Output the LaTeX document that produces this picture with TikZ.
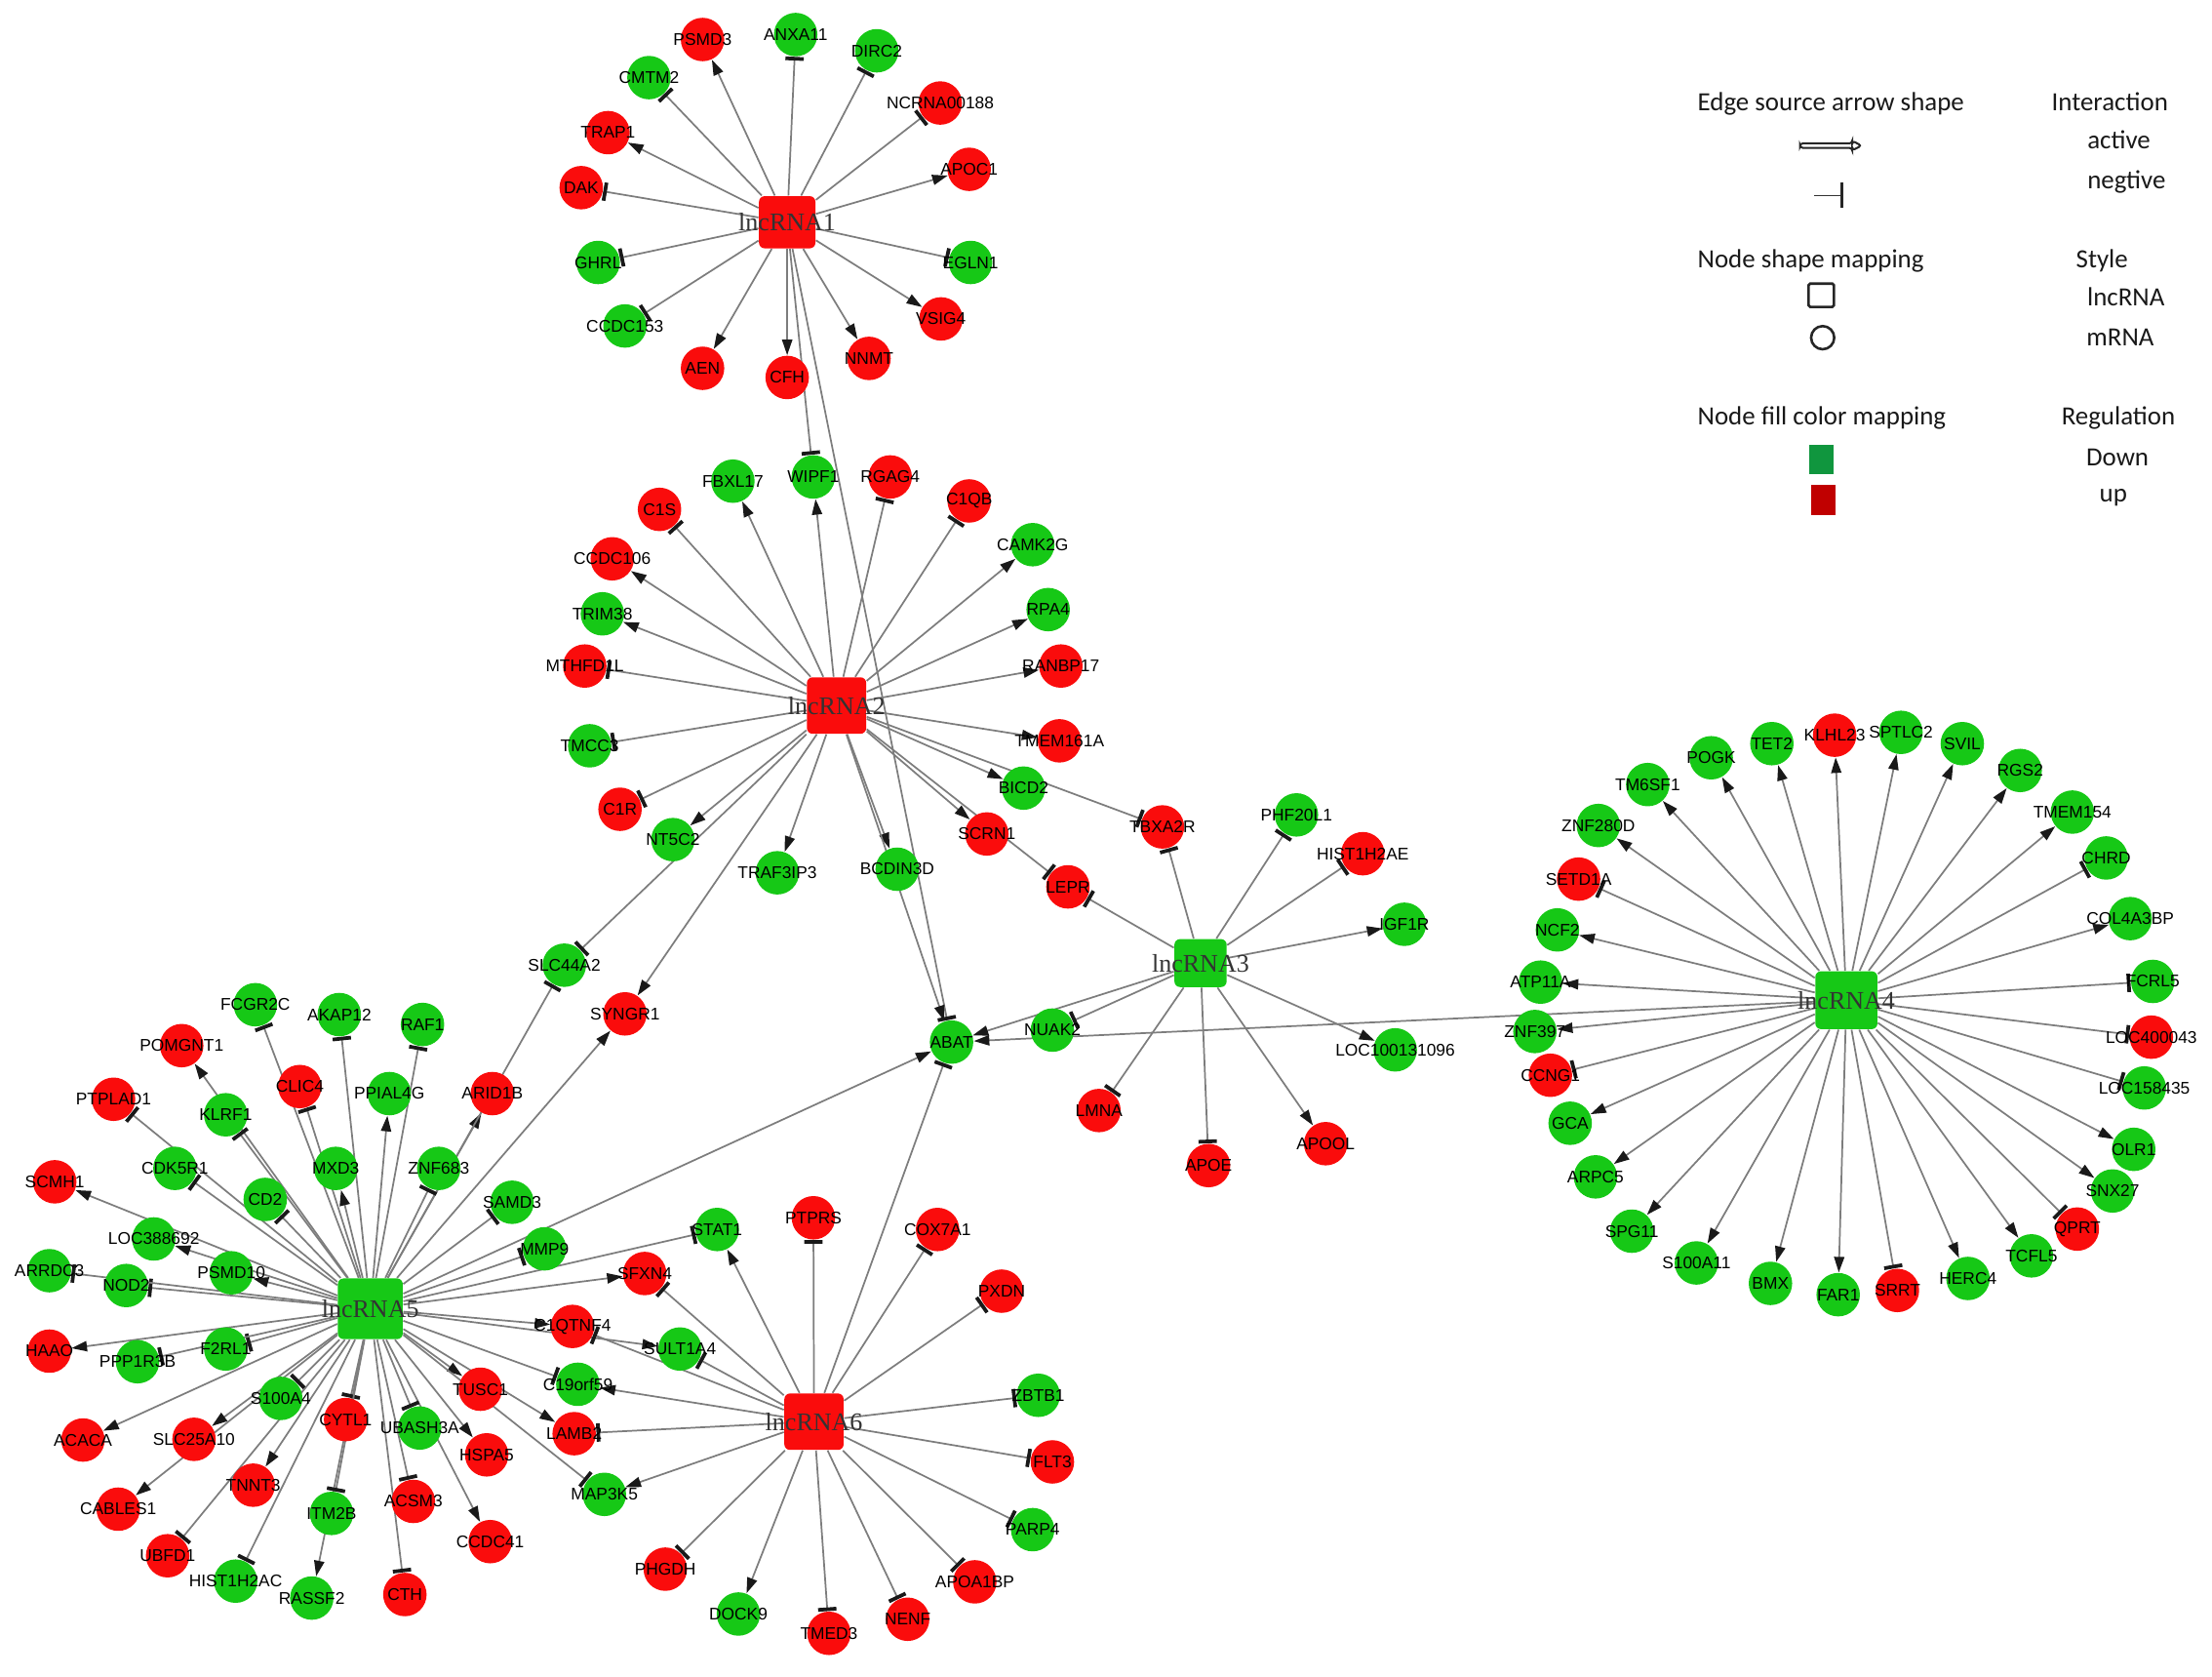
\documentclass[tikz,border=0pt]{standalone}
\usepackage{fontspec}
\setmainfont{Liberation Sans}
\newfontfamily\lncfam{Liberation Serif}
\newfontfamily\legfam{Carlito}
\usetikzlibrary{arrows.meta,backgrounds}
\definecolor{nred}{RGB}{250,12,12}
\definecolor{ngreen}{RGB}{22,200,22}
\definecolor{egray}{RGB}{125,125,125}
\definecolor{tipc}{RGB}{25,25,25}
\definecolor{leggreen}{RGB}{16,150,62}
\definecolor{legred}{RGB}{192,0,0}
\newcommand\gfnt{\fontsize{6}{6}\selectfont}
\newcommand\lfnt{\lncfam\fontsize{9}{9}\selectfont}
\newcommand\legfnt{\legfam\fontsize{9.3}{10}\selectfont}
\newcommand\geneUp[3]{\node[gnode,fill=nred] (#1) at (#2,#3) {\makebox[0pt]{#1}};}
\newcommand\geneDn[3]{\node[gnode,fill=ngreen] (#1) at (#2,#3) {\makebox[0pt]{#1}};}
\tikzset{
  gnode/.style={circle,inner sep=0pt,minimum size=15.4pt,font=\gfnt,text=black},
  lnc/.style={rectangle,rounded corners=2pt,inner sep=0pt,font=\lfnt,text=black!80},
  act/.style={draw=egray,line width=0.6pt,-{Triangle[length=5.5pt,width=3.6pt,color=tipc]}},
  neg/.style={draw=egray,line width=0.6pt,-{Bar[width=6.5pt,line width=1.3pt,color=tipc]}},
  legtxt/.style={font=\legfnt,text=black!90,inner sep=0pt,anchor=base},
}
\begin{document}
\begin{tikzpicture}[x=0.5pt,y=-0.5pt]
\useasboundingbox (0,0) rectangle (1568,1188);
% ---------- lncRNA hubs
\node[lnc,fill=nred,minimum width=20pt,minimum height=18.5pt] (L1) at (558,157.5) {\makebox[0pt]{lncRNA1}};
\node[lnc,fill=nred,minimum width=21pt,minimum height=20pt] (L2) at (593,500) {\makebox[0pt]{lncRNA2}};
\node[lnc,fill=ngreen,minimum width=18.5pt,minimum height=17pt] (L3) at (851,682.5) {\makebox[0pt]{lncRNA3}};
\node[lnc,fill=ngreen,minimum width=22pt,minimum height=20.5pt] (L4) at (1308.8,708.8) {\makebox[0pt]{lncRNA4}};
\node[lnc,fill=ngreen,minimum width=23pt,minimum height=21.5pt] (L5) at (262.5,927.5) {\makebox[0pt]{lncRNA5}};
\node[lnc,fill=nred,minimum width=21pt,minimum height=20pt] (L6) at (577,1007.5) {\makebox[0pt]{lncRNA6}};
% ---------- lncRNA1 genes
\geneUp{PSMD3}{498}{28}
\geneDn{ANXA11}{564}{24.5}
\geneDn{DIRC2}{621.5}{36}
\geneDn{CMTM2}{460}{55}
\geneUp{NCRNA00188}{666.5}{73}
\geneUp{TRAP1}{431}{94}
\geneUp{APOC1}{687}{120}
\geneUp{DAK}{412}{133}
\geneDn{GHRL}{424}{186}
\geneDn{EGLN1}{688}{186}
\geneDn{CCDC153}{443}{231}
\geneUp{VSIG4}{667}{226}
\geneUp{AEN}{498}{261}
\geneUp{CFH}{558}{267.5}
\geneUp{NNMT}{616}{254}
% ---------- lncRNA2 genes
\geneDn{FBXL17}{519.5}{341}
\geneDn{WIPF1}{576.5}{338}
\geneUp{RGAG4}{631}{338}
\geneUp{C1S}{467.5}{361}
\geneUp{C1QB}{687}{355}
\geneDn{CAMK2G}{732}{386}
\geneUp{CCDC106}{434}{396}
\geneDn{TRIM38}{427}{435}
\geneDn{RPA4}{743}{432}
\geneUp{MTHFD1L}{414.5}{472}
\geneUp{RANBP17}{752}{472}
\geneDn{TMCC3}{418}{528.5}
\geneUp{TMEM161A}{751}{525}
\geneUp{C1R}{439.5}{573.5}
\geneDn{BICD2}{725.5}{558.5}
\geneDn{NT5C2}{477}{595}
\geneUp{SCRN1}{699.5}{591}
\geneDn{TRAF3IP3}{551}{618.5}
\geneDn{BCDIN3D}{636}{616}
\geneUp{LEPR}{757}{628.5}
\geneDn{SLC44A2}{400}{684}
\geneUp{SYNGR1}{443}{718.5}
\geneDn{ABAT}{674.5}{738.5}
\geneDn{NUAK2}{746}{730}
% ---------- lncRNA3 genes
\geneUp{TBXA2R}{824}{586}
\geneDn{PHF20L1}{919}{577.5}
\geneUp{HIST1H2AE}{966}{605}
\geneDn{IGF1R}{995.5}{655}
\geneDn{LOC100131096}{989}{744}
\geneUp{APOOL}{939.7}{810.5}
\geneUp{APOE}{856.7}{826}
\geneUp{LMNA}{779}{787}
% ---------- lncRNA4 genes
\geneDn{TM6SF1}{1168}{556}
\geneDn{POGK}{1213}{537}
\geneDn{TET2}{1256}{527}
\geneUp{KLHL23}{1300.5}{521}
\geneDn{SPTLC2}{1347.5}{519}
\geneDn{SVIL}{1391}{527}
\geneDn{RGS2}{1432}{546}
\geneDn{TMEM154}{1469}{575.5}
\geneDn{CHRD}{1493}{608}
\geneDn{COL4A3BP}{1510}{651}
\geneDn{FCRL5}{1526}{695.5}
\geneUp{LOC400043}{1525}{735}
\geneDn{LOC158435}{1520}{771}
\geneDn{OLR1}{1512.5}{814.5}
\geneDn{SNX27}{1497.5}{844}
\geneUp{QPRT}{1472.5}{871}
\geneDn{TCFL5}{1440}{890}
\geneDn{HERC4}{1395}{906}
\geneUp{SRRT}{1345}{914.5}
\geneDn{FAR1}{1303}{917.5}
\geneDn{BMX}{1255}{909.5}
\geneDn{S100A11}{1202.5}{895}
\geneDn{SPG11}{1156.7}{872.5}
\geneDn{ARPC5}{1131}{834}
\geneDn{GCA}{1113}{796}
\geneUp{CCNG1}{1099}{762}
\geneDn{ZNF397}{1088}{731}
\geneDn{ATP11A}{1092}{696}
\geneDn{NCF2}{1104}{659}
\geneUp{SETD1A}{1119}{623}
\geneDn{ZNF280D}{1133}{585}
% ---------- lncRNA5 genes
\geneDn{FCGR2C}{181}{712}
\geneDn{AKAP12}{240.5}{719}
\geneDn{RAF1}{299.5}{726}
\geneUp{POMGNT1}{128.8}{741}
\geneUp{PTPLAD1}{80.5}{779}
\geneUp{CLIC4}{212.5}{770}
\geneDn{PPIAL4G}{276}{775}
\geneUp{ARID1B}{349}{775}
\geneDn{KLRF1}{160}{790}
\geneDn{CDK5R1}{124}{828}
\geneDn{MXD3}{238}{828}
\geneDn{ZNF683}{311}{828}
\geneUp{SCMH1}{38.8}{837.5}
\geneDn{CD2}{188}{850}
\geneDn{SAMD3}{363}{852}
\geneDn{LOC388692}{109}{878}
\geneDn{MMP9}{386}{885}
\geneDn{ARRDC3}{35}{900.5}
\geneDn{PSMD10}{164}{902}
\geneDn{NOD2}{89.5}{911}
\geneUp{HAAO}{35}{957.5}
\geneDn{F2RL1}{160}{956}
\geneDn{PPP1R3B}{97.5}{965}
\geneDn{S100A4}{199}{991}
\geneUp{TUSC1}{340.5}{984.5}
\geneUp{CYTL1}{245}{1006}
\geneDn{UBASH3A}{297.5}{1012}
\geneUp{ACACA}{58.8}{1020.5}
\geneUp{SLC25A10}{137.5}{1020}
\geneUp{HSPA5}{345}{1031}
\geneUp{TNNT3}{179.5}{1052.5}
\geneUp{ACSM3}{293}{1064}
\geneUp{CABLES1}{83.8}{1069.5}
\geneDn{ITM2B}{235}{1072.5}
\geneUp{CCDC41}{347.5}{1092.5}
\geneUp{UBFD1}{118.8}{1102.5}
\geneDn{HIST1H2AC}{167}{1120.5}
\geneUp{CTH}{287}{1130}
\geneDn{RASSF2}{221}{1132.5}
% ---------- lncRNA6 genes
\geneDn{STAT1}{508.4}{871.3}
\geneUp{PTPRS}{576.6}{863}
\geneUp{COX7A1}{664.6}{871.3}
\geneUp{PXDN}{710}{915}
\geneUp{SFXN4}{457}{902.5}
\geneUp{C1QTNF4}{405.8}{940}
\geneDn{SULT1A4}{482}{956}
\geneDn{C19orf59}{409.6}{981}
\geneUp{LAMB2}{407}{1016}
\geneDn{ZBTB1}{736}{988.8}
\geneUp{FLT3}{746}{1036}
\geneDn{MAP3K5}{428.4}{1059}
\geneDn{PARP4}{732}{1084}
\geneUp{PHGDH}{471.6}{1112}
\geneUp{APOA1BP}{691}{1121}
\geneDn{DOCK9}{523.4}{1143.8}
\geneUp{NENF}{643.4}{1147.5}
\geneUp{TMED3}{587.6}{1157.5}
% ---------- edges (behind nodes)
\begin{pgfonlayer}{background}
\foreach \t in {PSMD3,TRAP1,APOC1,VSIG4,AEN,CFH,NNMT} \draw[act] (L1) -- (\t);
\foreach \t in {ANXA11,DIRC2,CMTM2,NCRNA00188,DAK,GHRL,EGLN1,CCDC153,WIPF1,ABAT} \draw[neg] (L1) -- (\t);
\foreach \t in {FBXL17,WIPF1,CAMK2G,CCDC106,TRIM38,NT5C2,SYNGR1,TRAF3IP3,BCDIN3D,ABAT,SCRN1,BICD2,TMEM161A,RANBP17,RPA4} \draw[act] (L2) -- (\t);
\foreach \t in {C1S,RGAG4,C1QB,MTHFD1L,TMCC3,C1R,SLC44A2,LEPR,TBXA2R} \draw[neg] (L2) -- (\t);
\foreach \t in {IGF1R,LOC100131096,APOOL,ABAT} \draw[act] (L3) -- (\t);
\foreach \t in {TBXA2R,PHF20L1,HIST1H2AE,APOE,LMNA,NUAK2,LEPR} \draw[neg] (L3) -- (\t);
\foreach \t in {TM6SF1,POGK,TET2,KLHL23,SPTLC2,SVIL,RGS2,TMEM154,COL4A3BP,OLR1,SNX27,TCFL5,HERC4,FAR1,BMX,S100A11,SPG11,ARPC5,GCA,ZNF397,ATP11A,NCF2,ZNF280D,ABAT} \draw[act] (L4) -- (\t);
\foreach \t in {CHRD,FCRL5,LOC400043,LOC158435,QPRT,SRRT,CCNG1,SETD1A} \draw[neg] (L4) -- (\t);
\foreach \t in {ARID1B,SYNGR1,ABAT,POMGNT1,PPIAL4G,MXD3,SFXN4,C1QTNF4,SULT1A4,LAMB2,TUSC1,HSPA5,CCDC41,RASSF2,TNNT3,CABLES1,SLC25A10,ACACA,HAAO,PSMD10,LOC388692,SCMH1} \draw[act] (L5) -- (\t);
\foreach \t in {SLC44A2,KLRF1,FCGR2C,CLIC4,AKAP12,RAF1,CD2,ZNF683,SAMD3,MMP9,STAT1,C19orf59,MAP3K5,UBASH3A,ACSM3,CTH,CYTL1,ITM2B,HIST1H2AC,UBFD1,S100A4,F2RL1,PPP1R3B,NOD2,ARRDC3,CDK5R1,PTPLAD1} \draw[neg] (L5) -- (\t);
\foreach \t in {STAT1,DOCK9,MAP3K5,C19orf59} \draw[act] (L6) -- (\t);
\foreach \t in {PTPRS,COX7A1,PXDN,ZBTB1,FLT3,PARP4,APOA1BP,NENF,TMED3,PHGDH,LAMB2,SULT1A4,C1QTNF4,SFXN4,ABAT} \draw[neg] (L6) -- (\t);
\end{pgfonlayer}
% ---------- legend
\node[legtxt,anchor=base west] (lgA) at (1203,78.8) {Edge source arrow shape};
\node[legtxt] (lgB) at (1495.6,78.8) {Interaction};
\node[legtxt] (lgC) at (1502,105.5) {active};
\node[legtxt] (lgD) at (1507.4,133.5) {negtive};
\node[legtxt,anchor=base west] (lgE) at (1203,190) {Node shape mapping};
\node[legtxt] (lgF) at (1490,190) {Style};
\node[legtxt] (lgG) at (1507,217) {lncRNA};
\node[legtxt] (lgH) at (1503,245) {mRNA};
\node[legtxt,anchor=base west] (lgI) at (1203,301) {Node fill color mapping};
\node[legtxt] (lgJ) at (1501.6,301) {Regulation};
\node[legtxt] (lgK) at (1501,330) {Down};
\node[legtxt] (lgL) at (1498,356) {up};
\draw[line width=0.7pt,rounded corners=1pt,black!85] (1276,101.6) -- (1313,101.6) -- (1313,99.8) -- (1319.5,103.2) -- (1313,106.6) -- (1313,104.8) -- (1276,104.8) -- cycle;
\draw[line width=0.5pt,black!80] (1286,138.8) -- (1305,138.8);
\draw[line width=1pt,black!85] (1305.5,129) -- (1305.5,147.5);
\draw[line width=0.9pt,black!85,rounded corners=0.6pt] (1282,201) rectangle (1300,217.5);
\draw[line width=0.9pt,black!85] (1292,239.3) circle (4.1pt);
\fill[leggreen] (1282.5,315.5) rectangle (1300,336);
\fill[legred] (1283.8,343.8) rectangle (1301.3,365);
\end{tikzpicture}
\end{document}
